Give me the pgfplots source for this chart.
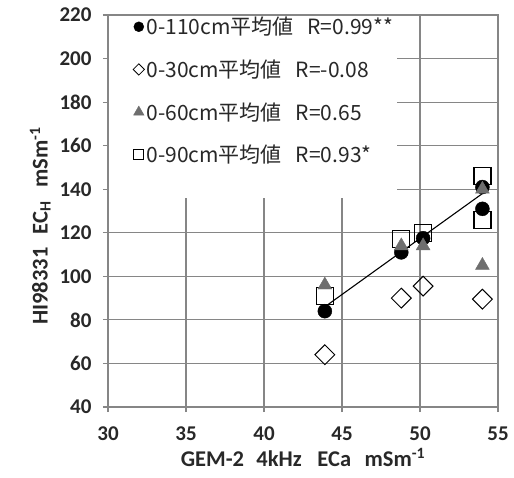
\documentclass[border=0pt]{standalone}
\usepackage{fontspec}
\setmainfont{Carlito}
\newfontfamily\cjk{Noto Sans CJK JP}
\usepackage{pgfplots}
\pgfplotsset{compat=1.18}
\definecolor{gridgray}{RGB}{134,134,134}
\definecolor{trigray}{RGB}{110,110,110}
\definecolor{txt}{RGB}{40,40,40}
\begin{document}
\begin{tikzpicture}
\begin{axis}[
  set layers,
  scale only axis, width=390pt, height=392pt,
  xmin=30, xmax=55, ymin=40, ymax=220,
  xtick distance=5, ytick distance=20,
  xtick pos=bottom, ytick pos=left,
  tick align=outside, major tick length=5pt,
  grid=major,
  grid style={gridgray, line width=1.1pt},
  axis line style={gridgray, line width=1.1pt},
  tick style={gridgray, line width=1.1pt},
  /pgf/number format/assume math mode=true,
  ticklabel style={font=\fontsize{21}{25}\selectfont\bfseries, text=txt},
  yticklabel style={xshift=-8pt},
  xticklabel style={yshift=-11pt},
  label style={font=\fontsize{22.5}{27}\selectfont\bfseries, text=txt},
  xlabel={GEM-2\hspace{0.55em}4kHz\hspace{0.7em}ECa\hspace{0.6em}mSm\textsuperscript{-1}},
  ylabel={HI98331\hspace{0.6em}EC\textsubscript{H}\hspace{0.6em}mSm\textsuperscript{-1}},
  ylabel style={at={(ticklabel cs:0.462)}, yshift=2pt},
  xlabel style={yshift=-1pt},
  legend style={at={(rel axis cs:0.064,1)}, anchor=north west, fill=none, draw=none,
    inner sep=0pt, font=\cjk\fontsize{21}{24}\selectfont, text=txt, row sep=19.5pt},
  legend cell align=left,
]
\begin{pgfonlayer}{axis ticks}
\fill[white] ([xshift=1.2pt,yshift=-1.2pt]rel axis cs:0,1) rectangle (axis cs:48.53,136);
\end{pgfonlayer}
\coordinate (bl) at ([xshift=-108pt,yshift=-70pt]rel axis cs:0,0);
\coordinate (tr) at ([xshift=16pt,yshift=15pt]rel axis cs:1,1);

\addlegendimage{only marks, mark=*, mark size=5pt, black}
\addlegendentry{0-110cm平均値\hspace{14pt}R=0.99**}
\addlegendimage{only marks, mark=square, mark options={rotate=45, fill=white}, mark size=4pt, black, line width=0.8pt}
\addlegendentry{0-30cm平均値\hspace{14pt}R=-0.08}
\addlegendimage{only marks, mark=triangle*, mark size=6pt, trigray}
\addlegendentry{0-60cm平均値\hspace{14pt}R=0.65}
\addlegendimage{only marks, mark=square, mark size=5pt, black, line width=1pt}
\addlegendentry{0-90cm平均値\hspace{14pt}R=0.93*}

% 0-90cm
\addplot[only marks, mark=square, mark size=8.5pt, line width=1.2pt, black, forget plot]
  coordinates {(43.9,91) (48.8,117) (50.2,120) (54,146) (54,126)};
% 0-110cm
\addplot[only marks, mark=*, mark size=7pt, black, forget plot]
  coordinates {(43.9,84) (48.8,111) (50.2,117.5) (54,141) (54,131)};
\addplot[black, line width=1.1pt, forget plot] coordinates {(43.9,86) (54,138)};
% 0-60cm
\addplot[only marks, mark=triangle*, mark size=8pt, trigray, forget plot]
  coordinates {(43.9,96) (48.8,114) (50.2,114) (54,140) (54,105)};
% 0-30cm
\addplot[only marks, mark=square, mark options={rotate=45, fill=white}, mark size=7pt, line width=1pt, black, forget plot]
  coordinates {(43.9,64) (48.8,90) (50.2,95.5) (54,89.5)};
\end{axis}
\pgfresetboundingbox
\path[use as bounding box] (bl) rectangle (tr);
\end{tikzpicture}
\end{document}
